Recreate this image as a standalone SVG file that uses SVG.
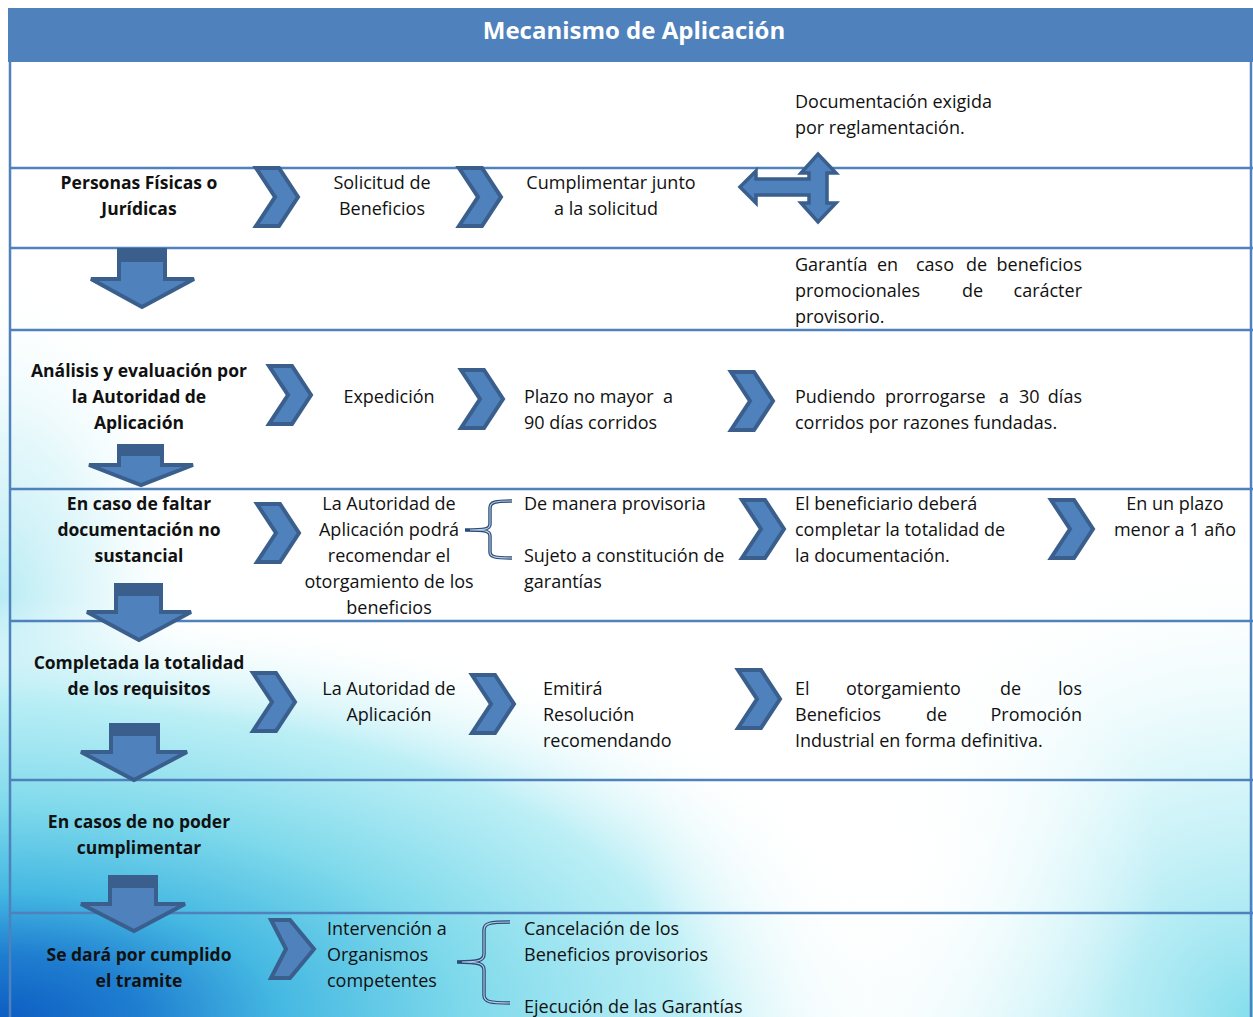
<svg xmlns="http://www.w3.org/2000/svg" width="1253" height="1017" viewBox="0 0 1253 1017">
<defs>
<style>
.t{font-family:"Open Sans","Noto Sans","Liberation Sans",sans-serif;font-size:18px;fill:#111}
.b{font-weight:bold;font-size:17.5px}
.m{text-anchor:middle}
.e{text-anchor:end}
.title{font-family:"Open Sans","Liberation Sans",sans-serif;font-size:24px;font-weight:bold;fill:#fff;text-anchor:middle}
.shape{fill:#4F81BD;stroke:#3A5F8D;stroke-width:4;stroke-linejoin:miter}
.band{fill:#3A5F8D}
.rule{stroke:#4F81BD;stroke-width:2.5;fill:none}
.br1{fill:none;stroke:#2C4C78;stroke-width:3.5}
.br2{fill:none;stroke:#B9CDE4;stroke-width:1.1}
</style>
<radialGradient id="gA" gradientUnits="userSpaceOnUse" cx="0" cy="1017" r="930" gradientTransform="translate(0,1017) scale(1,0.45) translate(0,-1017)">
<stop offset="0" stop-color="#0D5EC2"/>
<stop offset="0.15" stop-color="#1F7ED0"/>
<stop offset="0.3" stop-color="#45B8E2"/>
<stop offset="0.5" stop-color="#7ED9EB"/>
<stop offset="0.75" stop-color="#B0ECF4" stop-opacity="0.85"/>
<stop offset="1" stop-color="#FFFFFF" stop-opacity="0"/>
</radialGradient>
<radialGradient id="gB" gradientUnits="userSpaceOnUse" cx="1253" cy="1017" r="480">
<stop offset="0" stop-color="#7FDCEC" stop-opacity="0.95"/>
<stop offset="0.5" stop-color="#B6EEF5" stop-opacity="0.55"/>
<stop offset="1" stop-color="#FFFFFF" stop-opacity="0"/>
</radialGradient>
<radialGradient id="gW" gradientUnits="userSpaceOnUse" cx="900" cy="860" r="260">
<stop offset="0" stop-color="#FFFFFF" stop-opacity="1"/>
<stop offset="1" stop-color="#FFFFFF" stop-opacity="0"/>
</radialGradient>
<radialGradient id="gL" gradientUnits="userSpaceOnUse" cx="0" cy="600" r="330" gradientTransform="translate(0,600) scale(0.6,1) translate(0,-600)">
<stop offset="0" stop-color="#B4EAF4" stop-opacity="0.95"/>
<stop offset="0.5" stop-color="#D2F3F8" stop-opacity="0.6"/>
<stop offset="1" stop-color="#FFFFFF" stop-opacity="0"/>
</radialGradient>
<path id="chev" d="M2,2 L25,2 L44,31 L25,60 L2,60 L21,31 Z"/>
</defs>

<g id="background">
<rect x="0" y="0" width="1253" height="1017" fill="#FFFFFF"/>
<rect x="0" y="250" width="300" height="767" fill="url(#gL)"/>
<rect x="0" y="0" width="1253" height="1017" fill="url(#gA)"/>
<rect x="0" y="0" width="1253" height="1017" fill="url(#gB)"/>
<rect x="600" y="600" width="600" height="420" fill="url(#gW)"/>
</g>

<g id="header">
<rect x="8" y="8" width="1245" height="54" fill="#4F81BD"/>
<text class="title" x="634" y="39">Mecanismo de Aplicación</text>
</g>

<g id="table">
<line class="rule" x1="10" y1="62" x2="10" y2="1017"/>
<line class="rule" x1="1251" y1="62" x2="1251" y2="1017"/>
<line class="rule" x1="9" y1="168" x2="1253" y2="168"/>
<line class="rule" x1="9" y1="248" x2="1253" y2="248"/>
<line class="rule" x1="9" y1="330" x2="1253" y2="330"/>
<line class="rule" x1="9" y1="489" x2="1253" y2="489"/>
<line class="rule" x1="9" y1="621" x2="1253" y2="621"/>
<line class="rule" x1="9" y1="780" x2="1253" y2="780"/>
<line class="rule" x1="9" y1="913" x2="1253" y2="913"/>
</g>

<g id="connectors">
<use href="#chev" class="shape" x="254" y="166"/>
<use href="#chev" class="shape" x="457" y="166"/>
<use href="#chev" class="shape" x="267" y="364"/>
<use href="#chev" class="shape" x="459" y="368"/>
<use href="#chev" class="shape" x="729" y="370"/>
<use href="#chev" class="shape" x="255" y="502"/>
<use href="#chev" class="shape" x="740" y="498"/>
<use href="#chev" class="shape" x="1049" y="498"/>
<use href="#chev" class="shape" x="251" y="671"/>
<use href="#chev" class="shape" x="470" y="673"/>
<use href="#chev" class="shape" x="736" y="668"/>
<path class="shape" d="M271,920 L290,920 L314,949 L290,978 L271,978 L286,949 Z"/>

<polygon class="shape" points="119,250 165,250 165,279 194,279 142,307 91,279 119,279"/>
<rect class="band" x="117" y="248" width="50" height="14"/>
<polygon class="shape" points="119,446 162,446 162,465 193,465 141,485 89,465 119,465"/>
<rect class="band" x="117" y="444" width="47" height="12"/>
<polygon class="shape" points="116,585 161,585 161,612 191,612 139,640 87,612 116,612"/>
<rect class="band" x="114" y="583" width="49" height="13"/>
<polygon class="shape" points="111,725 158,725 158,752 187,752 134,780 81,752 111,752"/>
<rect class="band" x="109" y="723" width="51" height="13"/>
<polygon class="shape" points="110,877 156,877 156,904 185,904 134,931 81,904 110,904"/>
<rect class="band" x="108" y="875" width="50" height="13"/>

<path class="shape" style="stroke-width:3.5" d="M740,187 L756,171 L756,179 L809,179 L809,173 L801,173 L818,154 L836,173 L827,173 L827,203 L836,203 L818,222 L801,203 L809,203 L809,195 L756,195 L756,203 Z"/>

<path class="br1" d="M512,501 C495,501 490,502 490,508 L490,524 C490,529 486,530 465,530 M465,530 C486,530 490,531 490,536 L490,552 C490,557 495,558 512,558"/>
<path class="br2" d="M512,501 C495,501 490,502 490,508 L490,524 C490,529 486,530 470,530 M470,530 C486,530 490,531 490,536 L490,552 C490,557 495,558 512,558"/>
<path class="br1" d="M510,922 C490,922 484,923 484,930 L484,954 C484,960 480,962 457,962 M457,962 C480,962 484,964 484,970 L484,995 C484,1002 490,1003 510,1003"/>
<path class="br2" d="M510,922 C490,922 484,923 484,930 L484,954 C484,960 480,962 462,962 M462,962 C480,962 484,964 484,970 L484,995 C484,1002 490,1003 510,1003"/>
</g>

<g id="n-documentacion">
<text class="t" x="795" y="108">Documentación exigida</text>
<text class="t" x="795" y="134">por reglamentación.</text>
</g>

<g id="n-personas">
<text class="t b m" x="139" y="189">Personas Físicas o</text>
<text class="t b m" x="139" y="215">Jurídicas</text>
</g>
<g id="n-solicitud">
<text class="t m" x="382" y="189">Solicitud de</text>
<text class="t m" x="382" y="215">Beneficios</text>
</g>
<g id="n-cumplimentar">
<text class="t m" x="611" y="189">Cumplimentar junto</text>
<text class="t m" x="606" y="215">a la solicitud</text>
</g>

<g id="n-garantia">
<text class="t" x="795" y="271">Garantía</text>
<text class="t" x="877" y="271">en</text>
<text class="t" x="916" y="271">caso</text>
<text class="t" x="966" y="271">de</text>
<text class="t e" x="1082" y="271">beneficios</text>
<text class="t" x="795" y="297">promocionales</text>
<text class="t" x="962" y="297">de</text>
<text class="t e" x="1082" y="297">carácter</text>
<text class="t" x="795" y="323">provisorio.</text>
</g>

<g id="n-analisis">
<text class="t b m" x="139" y="377">Análisis y evaluación por</text>
<text class="t b m" x="139" y="403">la Autoridad de</text>
<text class="t b m" x="139" y="429">Aplicación</text>
</g>
<g id="n-expedicion">
<text class="t m" x="389" y="403">Expedición</text>
</g>
<g id="n-plazo">
<text class="t" x="524" y="403" xml:space="preserve">Plazo no mayor  a</text>
<text class="t" x="524" y="429">90 días corridos</text>
</g>
<g id="n-pudiendo">
<text class="t" x="795" y="403">Pudiendo</text>
<text class="t" x="885" y="403">prorrogarse</text>
<text class="t" x="999" y="403">a</text>
<text class="t" x="1019" y="403">30</text>
<text class="t e" x="1082" y="403">días</text>
<text class="t" x="795" y="429">corridos por razones fundadas.</text>
</g>

<g id="n-faltar">
<text class="t b m" x="139" y="510">En caso de faltar</text>
<text class="t b m" x="139" y="536">documentación no</text>
<text class="t b m" x="139" y="562">sustancial</text>
</g>
<g id="n-autoridad-podra">
<text class="t m" x="389" y="510">La Autoridad de</text>
<text class="t m" x="389" y="536">Aplicación podrá</text>
<text class="t m" x="389" y="562">recomendar el</text>
<text class="t m" x="389" y="588">otorgamiento de los</text>
<text class="t m" x="389" y="614">beneficios</text>
</g>
<g id="n-provisoria">
<text class="t" x="524" y="510">De manera provisoria</text>
</g>
<g id="n-sujeto">
<text class="t" x="524" y="562">Sujeto a constitución de</text>
<text class="t" x="524" y="588">garantías</text>
</g>
<g id="n-beneficiario">
<text class="t" x="795" y="510">El beneficiario deberá</text>
<text class="t" x="795" y="536">completar la totalidad de</text>
<text class="t" x="795" y="562">la documentación.</text>
</g>
<g id="n-plazo-anio">
<text class="t m" x="1175" y="510">En un plazo</text>
<text class="t m" x="1175" y="536">menor a 1 año</text>
</g>

<g id="n-completada">
<text class="t b m" x="139" y="669">Completada la totalidad</text>
<text class="t b m" x="139" y="695">de los requisitos</text>
</g>
<g id="n-autoridad">
<text class="t m" x="389" y="695">La Autoridad de</text>
<text class="t m" x="389" y="721">Aplicación</text>
</g>
<g id="n-emitira">
<text class="t" x="543" y="695">Emitirá</text>
<text class="t" x="543" y="721">Resolución</text>
<text class="t" x="543" y="747">recomendando</text>
</g>
<g id="n-otorgamiento">
<text class="t" x="795" y="695">El</text>
<text class="t" x="846" y="695">otorgamiento</text>
<text class="t" x="1000" y="695">de</text>
<text class="t e" x="1082" y="695">los</text>
<text class="t" x="795" y="721">Beneficios</text>
<text class="t" x="926" y="721">de</text>
<text class="t e" x="1082" y="721">Promoción</text>
<text class="t" x="795" y="747">Industrial en forma definitiva.</text>
</g>

<g id="n-no-poder">
<text class="t b m" x="139" y="828">En casos de no poder</text>
<text class="t b m" x="139" y="854">cumplimentar</text>
</g>

<g id="n-cumplido">
<text class="t b m" x="139" y="961">Se dará por cumplido</text>
<text class="t b m" x="139" y="987">el tramite</text>
</g>
<g id="n-intervencion">
<text class="t" x="327" y="935">Intervención a</text>
<text class="t" x="327" y="961">Organismos</text>
<text class="t" x="327" y="987">competentes</text>
</g>
<g id="n-cancelacion">
<text class="t" x="524" y="935">Cancelación de los</text>
<text class="t" x="524" y="961">Beneficios provisorios</text>
</g>
<g id="n-ejecucion">
<text class="t" x="524" y="1013">Ejecución de las Garantías</text>
</g>
</svg>
